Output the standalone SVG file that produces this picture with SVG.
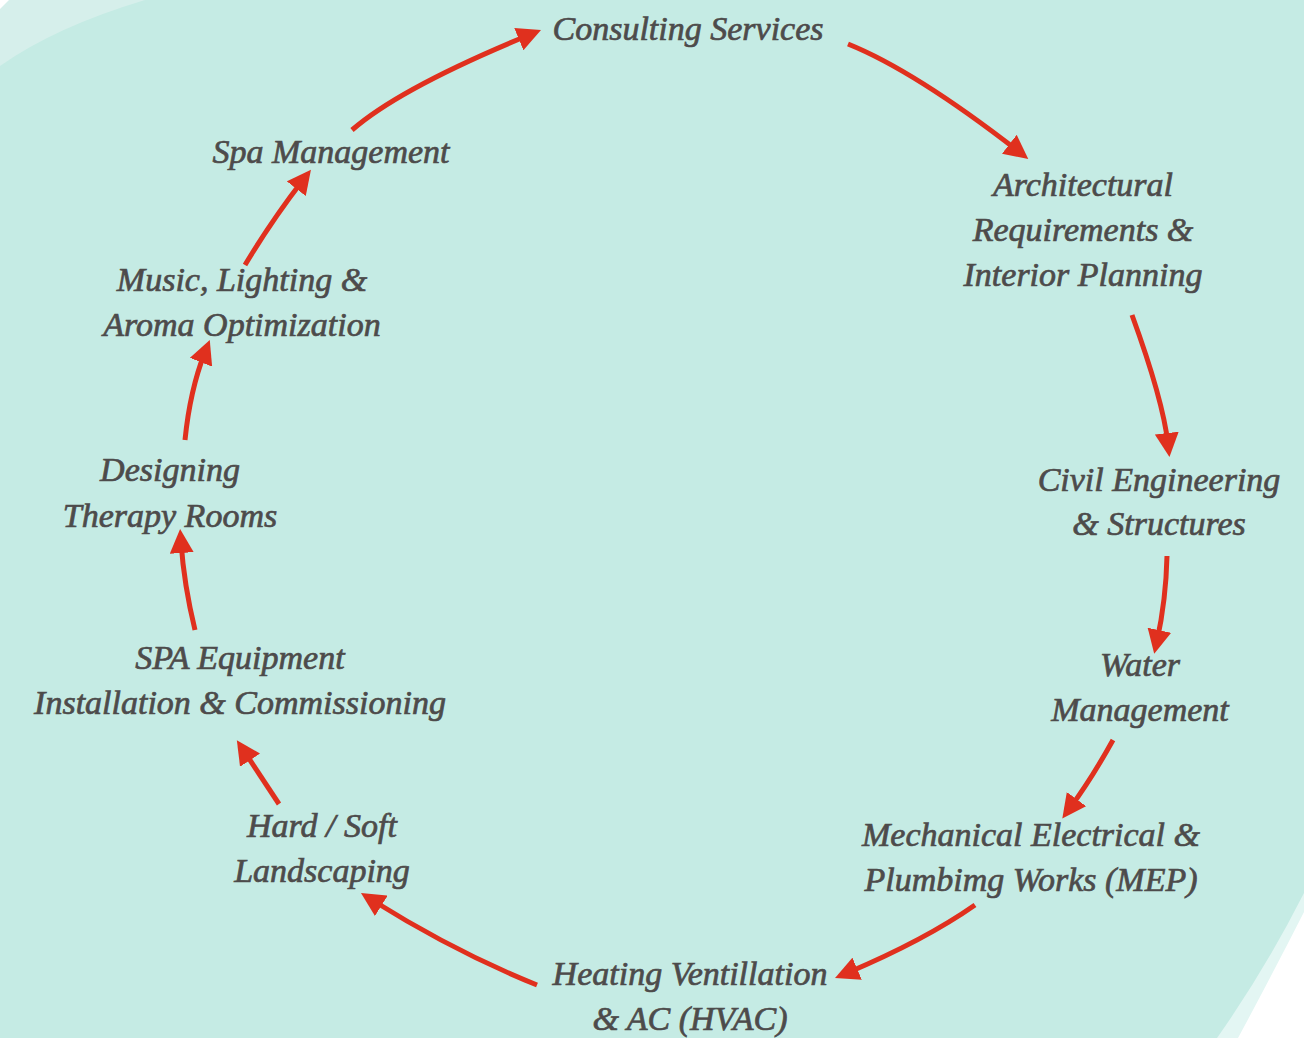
<svg xmlns="http://www.w3.org/2000/svg" width="1304" height="1038" viewBox="0 0 1304 1038">
<defs>
<marker id="ah" markerUnits="userSpaceOnUse" markerWidth="24" markerHeight="24" refX="11" refY="12" orient="auto" viewBox="0 0 24 24">
<path d="M0,0 L24,12 L0,24 z" fill="#E0301E"/>
</marker>
<style>
.lbl{font-family:"Liberation Serif","Times New Roman",serif;font-style:italic;font-weight:normal;font-size:34px;fill:#4d4b4b;stroke:#4d4b4b;stroke-width:0.7;text-anchor:middle}
.arr{fill:none;stroke:#E0301E;stroke-width:5;marker-end:url(#ah)}
</style>
</defs>
<g id="background">
<rect x="0" y="0" width="1304" height="1038" fill="#C5EBE4"/>
<path d="M0,0 L145,0 Q55,27 0,66 Z" fill="#D6EFEB"/>
<path d="M0,0 L9,0 L0,9 Z" fill="#FFFFFF"/>
<path d="M1304,893 Q1265,970 1217,1038 L1304,1038 Z" fill="#E3F6F3"/>
<path d="M1304,912 Q1272,975 1238,1038 L1304,1038 Z" fill="#FFFFFF"/>
</g>
<g id="connectors">
<path class="arr" d="M352,130 Q400,88 529,35"/>
<path class="arr" d="M848,44 Q915,71 1018,151"/>
<path class="arr" d="M1132,315 Q1163,400 1168,444"/>
<path class="arr" d="M1167,556 Q1166,600 1157,641"/>
<path class="arr" d="M1113,740 Q1092,778 1070,808"/>
<path class="arr" d="M975,905 Q925,940 847,973"/>
<path class="arr" d="M537,985 Q455,952 372,900"/>
<path class="arr" d="M279,804 L244,751"/>
<path class="arr" d="M195,630 Q184,585 181,542"/>
<path class="arr" d="M185,440 Q190,390 205,352"/>
<path class="arr" d="M245,265 Q272,220 303,180"/>
</g>
<g id="n-consulting"><text class="lbl" x="688" y="40">Consulting Services</text></g>
<g id="n-architectural"><text class="lbl" x="1083" y="196">Architectural</text><text class="lbl" x="1083" y="241">Requirements &amp;</text><text class="lbl" x="1083" y="286">Interior Planning</text></g>
<g id="n-civil"><text class="lbl" x="1159" y="491">Civil Engineering</text><text class="lbl" x="1159" y="535">&amp; Structures</text></g>
<g id="n-water"><text class="lbl" x="1140" y="676">Water</text><text class="lbl" x="1140" y="721">Management</text></g>
<g id="n-mep"><text class="lbl" x="1031" y="846">Mechanical Electrical &amp;</text><text class="lbl" x="1031" y="891">Plumbimg Works (MEP)</text></g>
<g id="n-hvac"><text class="lbl" x="690" y="985">Heating Ventillation</text><text class="lbl" x="690" y="1030">&amp; AC (HVAC)</text></g>
<g id="n-landscaping"><text class="lbl" x="322" y="837">Hard / Soft</text><text class="lbl" x="322" y="882">Landscaping</text></g>
<g id="n-equipment"><text class="lbl" x="240" y="669">SPA Equipment</text><text class="lbl" x="240" y="714">Installation &amp; Commissioning</text></g>
<g id="n-therapy"><text class="lbl" x="170" y="481">Designing</text><text class="lbl" x="170" y="527">Therapy Rooms</text></g>
<g id="n-music"><text class="lbl" x="242" y="291">Music, Lighting &amp;</text><text class="lbl" x="242" y="336">Aroma Optimization</text></g>
<g id="n-spa"><text class="lbl" x="331" y="163">Spa Management</text></g>
</svg>
